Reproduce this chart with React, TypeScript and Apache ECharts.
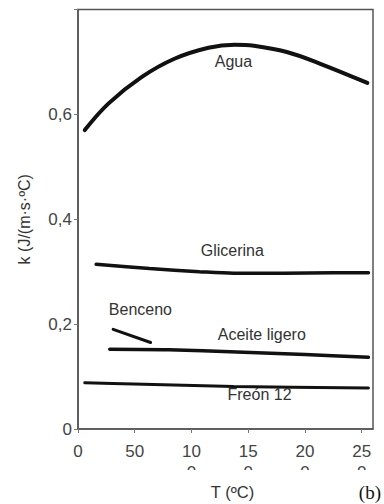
import React, { useEffect, useRef } from "react";
import * as echarts from "echarts";

// Temperature (°C) and thermal conductivity k (J/(m·s·°C))
const aguaT = [6, 27, 56, 85, 115, 138, 155, 184, 213, 255];
const aguaK = [0.570, 0.621, 0.671, 0.706, 0.727, 0.733, 0.731, 0.719, 0.697, 0.660];

const glicerinaT = [16, 63, 107, 137, 181, 225, 256];
const glicerinaK = [0.314, 0.306, 0.300, 0.297, 0.297, 0.298, 0.298];

const bencenoT = [31, 64];
const bencenoK = [0.190, 0.165];

const aceiteT = [28, 80, 140, 200, 256];
const aceiteK = [0.152, 0.151, 0.147, 0.142, 0.137];

const freonT = [6, 49, 137, 256];
const freonK = [0.088, 0.086, 0.081, 0.078];

const seriesNames = ["Agua", "Glicerina", "Benceno", "Aceite ligero", "Freón 12"];
// label anchor positions in data units [T, k]
const labelT = [137, 136, 55, 162, 160];
const labelK = [0.700, 0.341, 0.227, 0.181, 0.065];

const xTickLabels = ["0", "50", "100", "150", "200", "250"];
const yTickLabels = ["0", "0,2", "0,4", "0,6"];
const yTickValues = [0, 0.2, 0.4, 0.6];

const FONT = "'Liberation Sans', Arial, sans-serif";

export default function App() {
  const ref = useRef<HTMLDivElement>(null);
  useEffect(() => {
    if (!ref.current) return;
    const chart = echarts.init(ref.current, undefined, { renderer: "svg" });
    const allT = [aguaT, glicerinaT, bencenoT, aceiteT, freonT];
    const allK = [aguaK, glicerinaK, bencenoK, aceiteK, freonK];
    const widths = [4, 3.5, 3, 3.5, 3];
    const series = seriesNames.map((name, i) => ({
      name,
      type: "line",
      smooth: i === 0 ? 0.4 : 0.3,
      showSymbol: false,
      silent: true,
      data: allT[i].map((t, j) => [t, allK[i][j]]),
      lineStyle: { color: "#111", width: widths[i], cap: "round" },
      markPoint: {
        symbol: "circle",
        symbolSize: 0,
        silent: true,
        label: {
          show: true,
          position: "inside",
          formatter: name,
          color: "#333",
          fontSize: 16,
          fontFamily: FONT,
        },
        data: [{ coord: [labelT[i], labelK[i]] }],
      },
    }));

    chart.setOption({
      animation: false,
      backgroundColor: "#fff",
      grid: {
        left: 78,
        right: 11,
        top: 9.5,
        bottom: 75,
        containLabel: false,
        outerBoundsMode: "none",
        show: true,
        borderColor: "#555",
        borderWidth: 1.5,
        backgroundColor: "transparent",
      },
      xAxis: {
        type: "value",
        min: 0,
        max: 260,
        interval: 50,
        name: "T (ºC)",
        nameLocation: "middle",
        nameGap: 54,
        nameMoveOverlap: false,
        nameTextStyle: { color: "#333", fontSize: 16.5, fontFamily: FONT, padding: [0, 0, 0, 14] },
        axisLine: { show: true, lineStyle: { color: "#555", width: 1.5 } },
        axisTick: { show: true, length: 4, lineStyle: { color: "#777", width: 1 } },
        splitLine: { show: false },
        axisLabel: {
          color: "#444",
          fontSize: 17,
          fontFamily: FONT,
          margin: 12,
          lineHeight: 21,
          showMaxLabel: false,
          formatter: (v: number) => {
            const idx = Math.round(v / 50);
            if (Math.abs(v - idx * 50) > 1e-6 || idx >= xTickLabels.length) return "";
            const s = xTickLabels[idx];
            return s.length > 2 ? s.slice(0, 2) + "\n" + s.slice(2) : s;
          },
        },
      },
      yAxis: {
        type: "value",
        min: 0,
        max: 0.8,
        interval: 0.2,
        name: "k (J/(m·s·ºC)",
        nameLocation: "middle",
        nameGap: 46,
        nameMoveOverlap: false,
        nameTextStyle: { color: "#333", fontSize: 16, fontFamily: FONT },
        axisLine: { show: true, lineStyle: { color: "#555", width: 1.5 } },
        axisTick: { show: true, length: 4, lineStyle: { color: "#777", width: 1 } },
        splitLine: { show: false },
        axisLabel: {
          color: "#444",
          fontSize: 17,
          fontFamily: FONT,
          margin: 6,
          formatter: (v: number) => {
            const idx = yTickValues.findIndex((t) => Math.abs(t - v) < 1e-6);
            return idx >= 0 ? yTickLabels[idx] : "";
          },
        },
      },
      graphic: [
        {
          type: "rect",
          z: 100,
          zlevel: 0,
          shape: { x: 150, y: 470, width: 234, height: 12 },
          style: { fill: "#fff" },
          silent: true,
        },
        {
          type: "text",
          z: 101,
          right: 3,
          top: 483,
          style: {
            text: "(b)",
            fill: "#111",
            fontSize: 19,
            fontFamily: "'Liberation Serif', 'DejaVu Serif', serif",
          },
          silent: true,
        },
      ],
      series,
    });
    return () => chart.dispose();
  }, []);
  return (
    <div
      ref={ref}
      style={{ position: "absolute", left: 0, top: 0, width: 384, height: 504 }}
    />
  );
}
